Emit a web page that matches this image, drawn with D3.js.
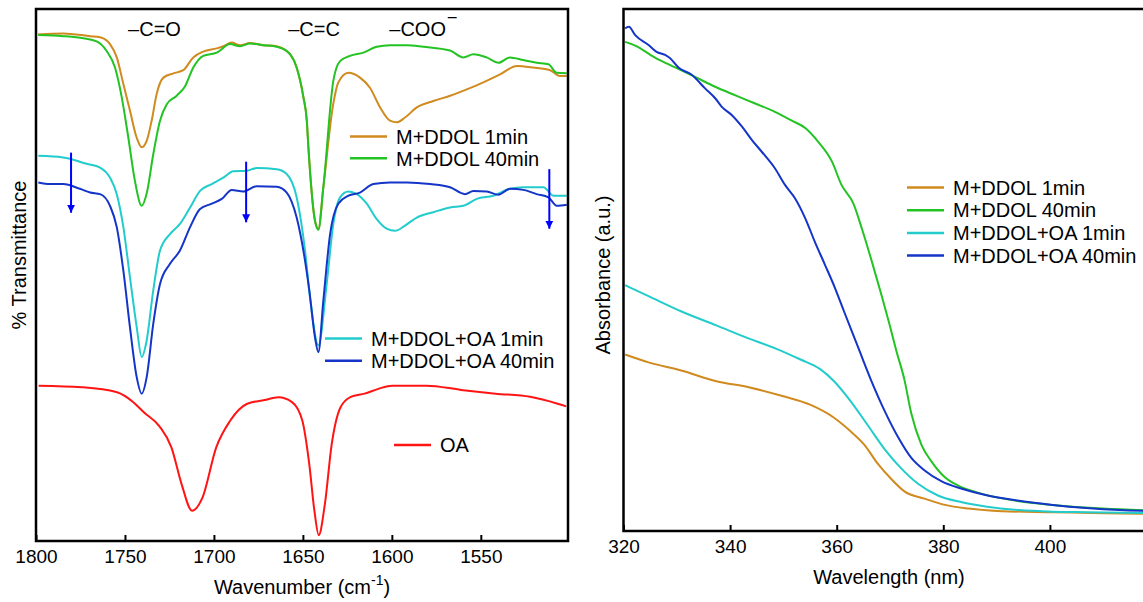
<!DOCTYPE html>
<head>
<meta charset="utf-8">
<script src="https://d3js.org/d3.v7.min.js"></script>
</head>
<style>
body { margin: 0; background: #fff; }
svg { display: block; font-family: "Liberation Sans", Arial, sans-serif; }
.line { fill: none; stroke-width: 2px; }
.frame { fill: none; stroke: #000; stroke-width: 2.5px; }
.tick text { font-size: 19px; fill: #000; }
.tick line { stroke: #000; stroke-width: 2px; }
.title { font-size: 20px; }
.legend { font-size: 20px; }
</style>
<body>
<script>
// FTIR spectra (wavenumber cm-1, transmittance a.u. with offsets)
var ddol1 = [[1798.9,95.2],[1784.7,95.4],[1769.6,94.9],[1764.0,94.7],[1758.4,93.4],[1754.6,90.9],[1750.9,85.9],[1747.2,80.9],[1743.4,75.8],[1740.6,74.0],[1737.8,75.2],[1735.0,79.0],[1732.2,84.0],[1728.4,87.1],[1722.8,87.9],[1717.2,88.5],[1711.6,90.9],[1706.0,92.0],[1698.4,92.6],[1694.7,93.0],[1690.0,93.7],[1685.3,93.2],[1679.7,93.6],[1672.2,93.2],[1664.7,93.0],[1659.1,92.1],[1657.2,91.5],[1653.5,89.0],[1649.7,83.4],[1647.8,79.0],[1646.9,74.0],[1643.2,60.2],[1641.3,58.7],[1638.5,66.5],[1632.9,82.2],[1630.1,86.2],[1624.4,88.0],[1617.9,87.1],[1612.3,85.2],[1606.6,81.5],[1601.0,79.0],[1597.2,78.7],[1592.6,79.6],[1586.0,81.5],[1576.7,82.7],[1567.3,83.7],[1557.9,84.9],[1548.6,86.2],[1539.2,87.7],[1529.8,89.3],[1520.5,89.0],[1511.1,88.5],[1505.5,87.4],[1501.7,87.4]];
var ddol40 = [[1798.7,95.1],[1784.7,94.9],[1773.4,94.5],[1765.9,93.9],[1760.3,92.1],[1755.6,89.0],[1751.8,83.4],[1748.1,75.8],[1744.4,67.7],[1740.6,63.0],[1737.8,65.3],[1734.1,72.7],[1730.3,79.0],[1726.5,82.1],[1720.9,83.7],[1716.2,85.5],[1711.6,89.0],[1706.0,91.2],[1698.4,91.8],[1690.9,93.4],[1685.3,93.0],[1679.7,93.5],[1672.2,93.2],[1664.7,92.9],[1659.1,92.1],[1657.2,91.5],[1653.5,89.0],[1649.7,83.4],[1647.8,79.0],[1646.9,74.0],[1643.2,60.2],[1641.3,58.5],[1638.5,66.5],[1632.9,86.5],[1629.1,90.2],[1623.5,91.2],[1616.0,91.8],[1608.5,92.9],[1601.0,93.2],[1591.6,93.2],[1582.3,92.9],[1567.3,92.2],[1559.8,90.9],[1554.2,91.5],[1546.7,90.9],[1540.1,89.9],[1533.6,90.9],[1526.1,90.4],[1518.6,89.9],[1512.0,89.6],[1507.3,88.0],[1501.7,87.9]];
var ddolOa1 = [[1798.7,72.4],[1784.7,72.1],[1771.5,70.9],[1764.0,70.2],[1758.4,68.3],[1754.6,65.2],[1750.9,59.0],[1747.2,49.6],[1743.4,40.2],[1740.6,34.6],[1737.8,37.7],[1734.1,47.1],[1730.3,54.6],[1724.7,57.7],[1719.1,59.6],[1713.4,62.7],[1707.8,65.8],[1701.2,67.1],[1694.7,68.3],[1689.1,69.5],[1681.6,69.6],[1675.9,70.1],[1664.7,69.9],[1659.1,69.0],[1653.5,64.6],[1648.8,54.6],[1646.0,45.8],[1641.3,36.8],[1636.6,48.4],[1632.9,59.6],[1629.1,64.6],[1624.4,65.7],[1619.7,65.2],[1614.1,63.4],[1608.5,60.5],[1602.9,58.7],[1598.2,58.3],[1592.6,59.3],[1586.0,60.8],[1576.7,61.8],[1567.3,62.7],[1559.8,63.0],[1552.3,64.3],[1543.0,64.9],[1533.6,66.2],[1526.1,66.5],[1514.8,66.5],[1509.2,64.9],[1501.7,64.9]];
var ddolOa40 = [[1798.7,67.4],[1792.1,67.1],[1784.7,67.1],[1775.3,66.2],[1769.6,65.5],[1764.0,65.2],[1758.4,63.0],[1754.6,59.0],[1750.9,50.8],[1747.2,40.2],[1743.4,30.8],[1740.6,27.7],[1737.8,30.8],[1734.1,40.8],[1730.3,48.3],[1724.7,52.1],[1719.1,54.6],[1713.4,59.0],[1707.8,62.4],[1701.2,63.4],[1695.6,64.3],[1690.0,66.0],[1683.5,65.7],[1676.0,66.7],[1664.7,66.6],[1659.1,65.5],[1653.5,60.8],[1648.8,52.7],[1646.4,47.1],[1643.2,38.3],[1641.3,35.5],[1638.5,45.2],[1634.7,57.7],[1630.1,63.4],[1624.4,64.9],[1617.9,65.5],[1610.4,67.1],[1601.0,67.4],[1591.6,67.4],[1578.5,67.1],[1567.3,66.5],[1558.9,65.2],[1554.2,65.8],[1546.7,65.7],[1540.1,65.1],[1533.6,66.2],[1526.1,66.0],[1518.6,65.2],[1512.0,64.6],[1507.3,63.0],[1501.7,63.2]];
var oa = [[1798.5,29.2],[1774.3,28.9],[1754.9,28.0],[1745.3,26.1],[1739.4,24.2],[1730.7,21.6],[1723.9,17.6],[1718.1,10.6],[1712.3,5.7],[1706.5,8.1],[1698.7,17.6],[1690.9,22.6],[1681.3,25.8],[1671.6,26.5],[1663.8,27.0],[1656.1,26.1],[1650.3,22.6],[1646.4,14.4],[1643.5,5.6],[1641.1,1.1],[1637.7,6.8],[1633.8,18.2],[1628.9,25.1],[1623.1,27.1],[1615.3,27.7],[1607.6,28.6],[1599.9,29.2],[1580.4,29.2],[1561.1,28.4],[1541.7,27.7],[1522.3,27.1],[1506.8,25.8],[1502.0,25.3]];
var ftirTicks = [1800, 1750, 1700, 1650, 1600, 1550];
// arrows: wavenumber, start, end
var arrows = [[1780.3,73.0,61.7],[1681.9,71.3,59.9],[1511.5,69.9,58.7]];

// UV-vis absorbance (wavelength nm, a.u.)
var uvDdol1 = [[320.3,0.338],[324.7,0.323],[331.0,0.307],[337.4,0.287],[343.7,0.275],[350.0,0.258],[355.0,0.242],[359.5,0.217],[362.6,0.191],[365.2,0.165],[367.7,0.129],[370.2,0.100],[372.7,0.076],[376.5,0.062],[380.3,0.050],[384.7,0.043],[391.0,0.038],[400.5,0.036],[410.0,0.034],[420.0,0.033]];
var uvDdol40 = [[320.3,0.937],[322.2,0.930],[325.9,0.907],[329.7,0.888],[333.4,0.870],[337.2,0.851],[340.9,0.835],[344.7,0.819],[348.4,0.803],[351.6,0.786],[354.1,0.772],[356.5,0.746],[359.1,0.708],[360.9,0.663],[363.1,0.628],[364.7,0.580],[366.6,0.516],[368.4,0.452],[369.8,0.400],[371.2,0.345],[372.7,0.290],[374.0,0.225],[375.9,0.165],[377.8,0.133],[380.3,0.103],[382.8,0.087],[386.6,0.073],[394.2,0.057],[400.5,0.050],[410.0,0.043],[420.0,0.039]];
var uvOa1 = [[320.3,0.471],[324.7,0.450],[331.0,0.420],[337.4,0.394],[343.7,0.368],[348.7,0.349],[353.1,0.329],[356.9,0.310],[359.5,0.287],[362.6,0.249],[365.8,0.203],[368.9,0.158],[372.1,0.120],[375.2,0.091],[379.0,0.068],[383.5,0.055],[387.9,0.047],[394.2,0.040],[400.5,0.037],[406.8,0.036],[420.0,0.034]];
var uvOa40 = [[320.3,0.963],[321.0,0.966],[322.2,0.950],[324.7,0.931],[326.2,0.918],[327.8,0.912],[328.7,0.906],[330.3,0.888],[332.8,0.874],[335.3,0.848],[337.2,0.829],[338.4,0.813],[340.3,0.797],[342.2,0.775],[344.1,0.749],[345.9,0.727],[348.4,0.695],[350.3,0.663],[352.2,0.637],[354.1,0.599],[355.9,0.554],[357.8,0.510],[359.7,0.465],[361.4,0.420],[363.9,0.355],[366.4,0.290],[368.9,0.232],[371.5,0.180],[374.0,0.140],[376.5,0.116],[379.7,0.095],[383.5,0.081],[387.9,0.069],[394.2,0.058],[400.5,0.050],[406.8,0.044],[413.1,0.040],[420.0,0.038]];
var uvTicks = [320, 340, 360, 380, 400];

var colors = {orange: "#d08a1e", green: "#22c322", cyan: "#22cccc", blue: "#1435c8", red: "#ff1414", arrow: "#0000ff"};

var width = 1143, height = 602;
var svg = d3.select("body").append("svg")
    .attr("width", width)
    .attr("height", height);

// ---------- left panel ----------
var L = {left: 36, right: 568, top: 9, bottom: 541};
var x1 = d3.scaleLinear().domain([1800, 1501]).range([L.left, L.right]);
var y1 = d3.scaleLinear().domain([0, 100]).range([L.bottom, L.top]);
var line1 = d3.line()
    .x(function(d) { return x1(d[0]); })
    .y(function(d) { return y1(d[1]); })
    .curve(d3.curveMonotoneX);

var left = svg.append("g");
[[ddol1, colors.orange], [ddol40, colors.green], [ddolOa1, colors.cyan], [ddolOa40, colors.blue], [oa, colors.red]].forEach(function(s) {
  left.append("path")
      .datum(s[0])
      .attr("class", "line")
      .attr("stroke", s[1])
      .attr("d", line1);
});

// arrows
svg.append("defs").append("marker")
    .attr("id", "head")
    .attr("viewBox", "0 0 10 10")
    .attr("refX", 10).attr("refY", 5)
    .attr("markerWidth", 4).attr("markerHeight", 5.5)
    .attr("markerUnits", "strokeWidth")
    .attr("orient", "auto")
  .append("path")
    .attr("d", "M0,0L10,5L0,10z")
    .attr("fill", colors.arrow);
arrows.forEach(function(a) {
  left.append("line")
      .attr("x1", x1(a[0])).attr("x2", x1(a[0]))
      .attr("y1", y1(a[1])).attr("y2", y1(a[2]))
      .attr("stroke", colors.arrow)
      .attr("stroke-width", 2)
      .attr("marker-end", "url(#head)");
});

left.append("rect")
    .attr("class", "frame")
    .attr("x", L.left).attr("y", L.top)
    .attr("width", L.right - L.left).attr("height", L.bottom - L.top);

var ax1 = left.append("g")
    .attr("transform", "translate(0," + L.bottom + ")")
    .call(d3.axisBottom(x1).tickValues(ftirTicks).tickFormat(d3.format("d")).tickSizeInner(-6).tickSizeOuter(0).tickPadding(9));
ax1.select(".domain").remove();
ax1.selectAll("text").attr("font-family", null).attr("font-size", null).attr("dy", "0.71em");

left.append("text")
    .attr("class", "title")
    .attr("x", (L.left + L.right) / 2).attr("y", 594)
    .attr("text-anchor", "middle")
    .text("Wavenumber (cm")
  .append("tspan").attr("dy", -9).attr("font-size", 14).text("-1")
  .select(function() { return this.parentNode; })
  .append("tspan").attr("dy", 9).text(")");

left.append("text")
    .attr("class", "title")
    .attr("transform", "translate(26,255) rotate(-90)")
    .attr("text-anchor", "middle")
    .text("% Transmittance");

// group labels
var groups = [["\u2013C=O", 1733.4], ["\u2013C=C", 1643.7], ["\u2013COO", 1585.5]];
groups.forEach(function(g) {
  left.append("text")
      .attr("class", "legend")
      .attr("x", x1(g[1])).attr("y", 36)
      .attr("text-anchor", "middle")
      .attr("font-size", 19)
      .text(g[0]);
});
left.append("text")
    .attr("x", x1(1585.5) + 30).attr("y", 22)
    .attr("font-size", 16)
    .text("\u2013");

function legend(g, items, x, y, gap) {
  items.forEach(function(it, i) {
    var row = g.append("g").attr("transform", "translate(" + x + "," + (y + i * gap) + ")");
    row.append("line").attr("x1", 0).attr("x2", 37).attr("stroke", it[1]).attr("stroke-width", 2.5);
    row.append("text").attr("class", "legend").attr("x", 46).attr("dy", "0.36em").text(it[0]);
  });
}
legend(left, [["M+DDOL 1min", colors.orange], ["M+DDOL 40min", colors.green]], 350, 136.5, 21.8);
legend(left, [["M+DDOL+OA 1min", colors.cyan], ["M+DDOL+OA 40min", colors.blue]], 325, 338.5, 22.2);
legend(left, [["OA", colors.red]], 394, 445, 22);

// ---------- right panel ----------
var R = {left: 623.5, right: 1156.5, top: 9, bottom: 531};
var x2 = d3.scaleLinear().domain([320, 420]).range([R.left, R.right]);
var y2 = d3.scaleLinear().domain([0, 1]).range([R.bottom, R.top]);
var line2 = d3.line()
    .x(function(d) { return x2(d[0]); })
    .y(function(d) { return y2(d[1]); })
    .curve(d3.curveMonotoneX);

var right = svg.append("g");
[[uvDdol1, colors.orange], [uvOa1, colors.cyan], [uvDdol40, colors.green], [uvOa40, colors.blue]].forEach(function(s) {
  right.append("path")
      .datum(s[0])
      .attr("class", "line")
      .attr("stroke", s[1])
      .attr("d", line2);
});
right.append("rect")
    .attr("class", "frame")
    .attr("x", R.left).attr("y", R.top)
    .attr("width", R.right - R.left).attr("height", R.bottom - R.top);

var ax2 = right.append("g")
    .attr("transform", "translate(0," + R.bottom + ")")
    .call(d3.axisBottom(x2).tickValues(uvTicks).tickSizeInner(-6).tickSizeOuter(0).tickPadding(9));
ax2.select(".domain").remove();
ax2.selectAll("text").attr("font-family", null).attr("font-size", null).attr("dy", "0.71em");

right.append("text")
    .attr("class", "title")
    .attr("x", 889).attr("y", 584)
    .attr("text-anchor", "middle")
    .text("Wavelength (nm)");
right.append("text")
    .attr("class", "title")
    .attr("transform", "translate(610,275) rotate(-90)")
    .attr("text-anchor", "middle")
    .text("Absorbance (a.u.)");

legend(right, [["M+DDOL 1min", colors.orange], ["M+DDOL 40min", colors.green], ["M+DDOL+OA 1min", colors.cyan], ["M+DDOL+OA 40min", colors.blue]], 907, 187.5, 22.7);
</script>
</body>
